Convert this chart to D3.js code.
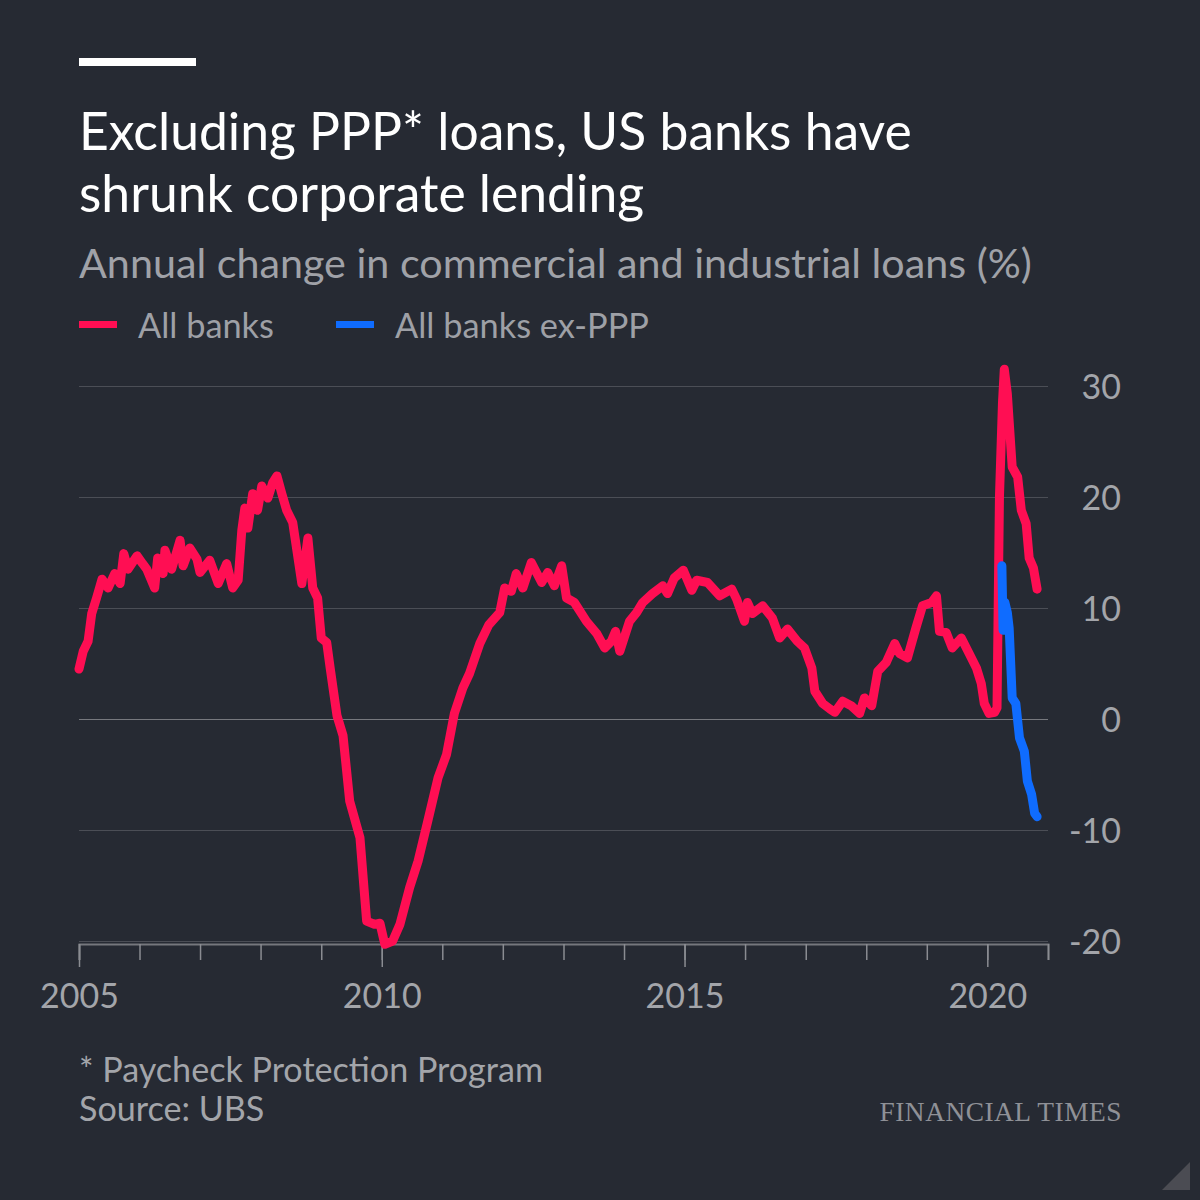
<!DOCTYPE html>
<html><head><meta charset="utf-8">
<script src="https://cdn.jsdelivr.net/npm/d3@7"></script>
<style>
html,body{margin:0;padding:0;background:#262a33;}
svg{display:block;}
</style></head>
<body>
<svg id="c" width="1200" height="1200"></svg>
<script>
// ---- data ----
const allBanksYear = [2005.00,2005.07,2005.15,2005.21,2005.29,2005.38,2005.48,2005.59,2005.68,2005.74,2005.81,2005.96,2006.05,2006.12,2006.25,2006.30,2006.39,2006.42,2006.53,2006.67,2006.72,2006.83,2006.95,2007.00,2007.16,2007.30,2007.44,2007.54,2007.63,2007.69,2007.74,2007.79,2007.87,2007.95,2008.02,2008.12,2008.20,2008.27,2008.35,2008.43,2008.53,2008.68,2008.78,2008.86,2008.94,2009.00,2009.09,2009.15,2009.26,2009.36,2009.47,2009.64,2009.75,2009.88,2009.97,2010.05,2010.18,2010.30,2010.46,2010.60,2010.76,2010.93,2011.07,2011.20,2011.34,2011.45,2011.62,2011.77,2011.95,2012.03,2012.14,2012.22,2012.33,2012.47,2012.64,2012.74,2012.85,2012.97,2013.05,2013.18,2013.38,2013.55,2013.68,2013.79,2013.86,2013.93,2014.09,2014.21,2014.31,2014.47,2014.64,2014.72,2014.83,2014.98,2015.12,2015.20,2015.38,2015.58,2015.78,2015.86,2015.99,2016.04,2016.12,2016.29,2016.45,2016.57,2016.70,2016.86,2016.98,2017.10,2017.15,2017.28,2017.40,2017.48,2017.61,2017.75,2017.89,2017.97,2018.09,2018.19,2018.33,2018.47,2018.55,2018.68,2018.82,2018.93,2019.08,2019.16,2019.21,2019.32,2019.42,2019.57,2019.70,2019.82,2019.90,2019.95,2020.03,2020.12,2020.16,2020.20,2020.25,2020.28,2020.33,2020.41,2020.50,2020.56,2020.64,2020.69,2020.76,2020.82];
const allBanksValue = [4.5,6.1,7.0,9.5,10.9,12.6,11.8,13.1,12.2,14.9,13.5,14.7,14.0,13.5,11.8,14.5,13.1,15.2,13.5,16.1,13.8,15.4,14.4,13.2,14.3,12.2,14.0,11.8,12.5,17.0,19.0,17.2,20.3,18.8,21.0,19.9,21.3,21.9,20.3,18.8,17.7,12.2,16.3,11.8,10.9,7.3,6.9,4.5,0.3,-1.5,-7.4,-10.7,-18.2,-18.5,-18.4,-20.3,-20.0,-18.5,-15.2,-12.8,-9.2,-5.3,-3.2,0.5,2.8,4.1,6.8,8.5,9.6,11.8,11.5,13.1,11.8,14.1,12.3,13.2,12.0,13.8,10.9,10.5,8.8,7.7,6.4,7.0,7.9,6.1,8.8,9.6,10.5,11.3,12.0,11.3,12.7,13.4,11.6,12.5,12.3,11.1,11.7,10.8,8.8,10.5,9.5,10.2,9.1,7.3,8.1,7.0,6.4,4.6,2.5,1.4,0.9,0.6,1.6,1.2,0.5,1.9,1.2,4.3,5.1,6.8,5.9,5.5,8.2,10.2,10.5,11.1,7.9,7.8,6.4,7.3,5.9,4.6,3.2,1.4,0.5,0.6,1.0,20.0,28.5,31.5,29.3,22.7,21.8,18.8,17.6,14.5,13.6,11.7];
const exPPPYear = [2020.24,2020.26,2020.29,2020.33,2020.36,2020.41,2020.47,2020.53,2020.61,2020.66,2020.73,2020.78,2020.82];
const exPPPValue = [13.8,8.0,10.5,9.6,8.2,1.9,1.4,-1.7,-2.9,-5.6,-6.8,-8.5,-8.8];
const yTicks = [30,20,10,0,-10,-20];
const xLabelYears = [2005,2010,2015,2020];
const seriesNames = ["All banks","All banks ex-PPP"];
const seriesColors = ["#ff0e53","#0f6cff"];

const SANS = "Lato, 'Noto Sans', sans-serif";
const SERIF = "'Liberation Serif', 'DejaVu Serif', serif";

function toDate(yd){const yr=Math.floor(yd);const a=new Date(yr,0,1),b=new Date(yr+1,0,1);return new Date(+a+(yd-yr)*(b-a));}
const red = allBanksYear.map((t,i)=>({d:toDate(t),v:allBanksValue[i]}));
const blue = exPPPYear.map((t,i)=>({d:toDate(t),v:exPPPValue[i]}));

const svg = d3.select("#c");
svg.append("rect").attr("width",1200).attr("height",1200).attr("fill","#262a33");

function fit(sel, target){ const n=sel.node(); const fs=parseFloat(sel.attr("font-size")); const w=n.getComputedTextLength(); sel.attr("font-size", fs*target/w); return sel; }
function txt(x,y,s,fill,size,fam){ return svg.append("text").attr("x",x).attr("y",y).attr("fill",fill).attr("font-size",size).style("font-family",fam||SANS).text(s); }

// top bar
svg.append("rect").attr("x",79).attr("y",58).attr("width",117).attr("height",8).attr("fill","#ffffff");

// title
const t1 = txt(79,150,"Excluding PPP* loans, US banks have","#ffffff",46);
fit(t1,833);
txt(79,212,"shrunk corporate lending","#ffffff",t1.attr("font-size"));
const st = txt(79,278,"Annual change in commercial and industrial loans (%)","#a0a2a8",38);
fit(st,953);

// legend
const legX = [79,336];
const legW = [136,254];
seriesNames.forEach((n,i)=>{
  svg.append("rect").attr("x",legX[i]).attr("y",321).attr("width",38).attr("height",7).attr("fill",seriesColors[i]);
  const lt = txt(legX[i]+59,338,n,"#9ea0a6",30);
  fit(lt,legW[i]);
});

// scales
const x = d3.scaleTime().domain([new Date(2005,0,1), new Date(2021,0,1)]).range([79,1048]);
const y = d3.scaleLinear().domain([-20,30]).range([941,386]);

// gridlines
const grid = svg.append("g").attr("transform","translate(79,0)")
  .call(d3.axisLeft(y).tickValues(yTicks).tickSize(-(1048-79)).tickFormat(""));
grid.select(".domain").remove();
grid.selectAll(".tick line").attr("stroke",d=>d===0?"#76787e":"#4b4e56").attr("stroke-width",1.2);

// y labels
const ya = svg.append("g").attr("transform","translate(1121,0)")
  .call(d3.axisLeft(y).tickValues(yTicks).tickSize(0).tickPadding(0).tickFormat(d=>d));
ya.select(".domain").remove();
ya.selectAll("text").attr("font-size",34).attr("fill","#a3a5aa").style("font-family",SANS).attr("text-anchor","end").attr("dy","0.38em");

// x axis
const xg = svg.append("g").attr("transform","translate(0,944)");
xg.call(d3.axisBottom(x).ticks(d3.timeYear.every(1)).tickSize(16).tickFormat(""));
xg.select(".domain").attr("stroke","#75777d").attr("stroke-width",2);
xg.selectAll(".tick line").attr("stroke","#8a8c92").attr("stroke-width",1.5);
const xm = svg.append("g").attr("transform","translate(0,944)");
xm.call(d3.axisBottom(x).tickValues(xLabelYears.map(v=>new Date(v,0,1))).tickSize(23).tickPadding(17).tickFormat(d3.timeFormat("%Y")));
xm.select(".domain").remove();
xm.selectAll(".tick line").attr("stroke","#8a8c92").attr("stroke-width",1.5);
xm.selectAll("text").attr("font-size",34).attr("fill","#a3a5aa").style("font-family",SANS);

// lines
const line = d3.line().x(d=>x(d.d)).y(d=>y(d.v));
svg.append("path").datum(red).attr("d",line).attr("fill","none").attr("stroke",seriesColors[0]).attr("stroke-width",9).attr("stroke-linejoin","round").attr("stroke-linecap","round");
svg.append("path").datum(blue).attr("d",line).attr("fill","none").attr("stroke",seriesColors[1]).attr("stroke-width",9).attr("stroke-linejoin","round").attr("stroke-linecap","round");

// footer
const f1 = txt(79,1082,"* Paycheck Protection Program","#a3a5aa",30);
fit(f1,464);
txt(79,1121,"Source: UBS","#a3a5aa",f1.attr("font-size"));
const ft = txt(1122,1121,"FINANCIAL TIMES","#8f9197",26,SERIF).attr("text-anchor","end").attr("letter-spacing","0.5");
fit(ft,243);

// corner triangle
svg.append("path").attr("d","M1162,1190 L1190,1162 L1190,1190 Z").attr("fill","#4b4c53");
</script>
</body></html>
